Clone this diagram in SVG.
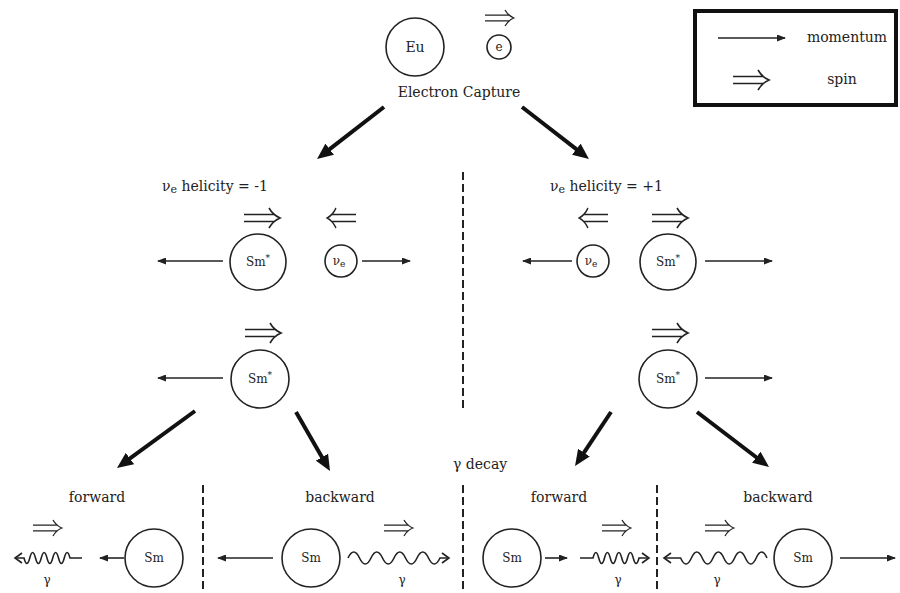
<svg xmlns="http://www.w3.org/2000/svg" xmlns:xlink="http://www.w3.org/1999/xlink" width="900" height="593" viewBox="0 0 900 593">
<style>
text{font-family:"DejaVu Serif","Liberation Serif",serif;font-size:14px;fill:#222;}
.c{text-anchor:middle;}
.small{font-size:12px;}
.node{fill:#fff;stroke:#222;stroke-width:1.6;}
.thin{stroke:#222;stroke-width:1.6;fill:none;marker-end:url(#ah);}
.thick{stroke:#111;stroke-width:4;fill:none;marker-end:url(#bh);}
.wave{stroke:#222;stroke-width:1.6;fill:none;marker-end:url(#oh);}
.dash{stroke:#222;stroke-width:2;stroke-dasharray:8 4;}
.spin{stroke:#222;stroke-width:1.6;fill:none;}
</style>
<defs>
<marker id="ah" markerUnits="userSpaceOnUse" markerWidth="9" markerHeight="7" refX="8" refY="3.5" orient="auto"><path d="M0,0 L9,3.5 L0,7 z" fill="#222"/></marker>
<marker id="bh" markerUnits="userSpaceOnUse" markerWidth="17" markerHeight="14" refX="2" refY="7" orient="auto"><path d="M0,0 L16,7 L0,14 z" fill="#111"/></marker>
<marker id="oh" markerUnits="userSpaceOnUse" markerWidth="10" markerHeight="12" refX="8" refY="6" orient="auto"><path d="M1,1 L8,6 L1,11" fill="none" stroke="#222" stroke-width="1.6"/></marker>
<path id="dbl" class="spin" d="M0,-3.5 H31 M0,3.5 H31 M25,-10 Q29,-3 36,0 Q29,3 25,10"/>
</defs>

<g id="legend">
<rect x="695" y="11" width="201" height="94" fill="#fff" stroke="#111" stroke-width="4"/>
<line class="thin" x1="718" y1="38" x2="785" y2="38"/>
<text x="847" y="42" class="c">momentum</text>
<use xlink:href="#dbl" transform="translate(733,80)"/>
<text x="842" y="84" class="c">spin</text>
</g>

<g id="eu">
<circle class="node" cx="415" cy="47" r="29"/>
<text x="415" y="52" class="c">Eu</text>
</g>
<g id="electron">
<use xlink:href="#dbl" transform="translate(485,18) scale(0.8)"/>
<circle class="node" cx="499" cy="47" r="12"/>
<text x="499" y="51" class="c small">e</text>
</g>
<text id="ec-label" x="459" y="97" class="c">Electron Capture</text>

<g id="left-title"><text x="162" y="191">ν<tspan dy="2" font-size="11">e</tspan><tspan dy="-2"> helicity = -1</tspan></text></g>
<g id="right-title"><text x="550" y="191">ν<tspan dy="2" font-size="11">e</tspan><tspan dy="-2"> helicity = +1</tspan></text></g>

<g id="sm1-left">
<use xlink:href="#dbl" transform="translate(244,218)"/>
<circle class="node" cx="258" cy="262" r="28"/>
<text x="258" y="266" class="c small">Sm<tspan dy="-5" font-size="9">*</tspan></text>
</g>
<g id="nu-left">
<use xlink:href="#dbl" transform="translate(356,218) scale(-0.8,1)"/>
<circle class="node" cx="341" cy="261" r="16"/>
<text x="339" y="265" class="c small">ν<tspan dy="2" font-size="9">e</tspan></text>
</g>
<g id="nu-right">
<use xlink:href="#dbl" transform="translate(608,218) scale(-0.8,1)"/>
<circle class="node" cx="593" cy="261" r="16"/>
<text x="591" y="265" class="c small">ν<tspan dy="2" font-size="9">e</tspan></text>
</g>
<g id="sm1-right">
<use xlink:href="#dbl" transform="translate(652,218)"/>
<circle class="node" cx="668" cy="262" r="28"/>
<text x="668" y="266" class="c small">Sm<tspan dy="-5" font-size="9">*</tspan></text>
</g>

<g id="sm2-left">
<use xlink:href="#dbl" transform="translate(245,333)"/>
<circle class="node" cx="260" cy="379" r="29"/>
<text x="260" y="383" class="c small">Sm<tspan dy="-5" font-size="9">*</tspan></text>
</g>
<g id="sm2-right">
<use xlink:href="#dbl" transform="translate(652,333)"/>
<circle class="node" cx="668" cy="379" r="29"/>
<text x="668" y="383" class="c small">Sm<tspan dy="-5" font-size="9">*</tspan></text>
</g>

<text id="gamma-decay" x="453" y="469">γ decay</text>

<g id="fwd-left">
<text x="97" y="502" class="c">forward</text>
<use xlink:href="#dbl" transform="translate(33,528) scale(0.8)"/>
<circle class="node" cx="154" cy="558" r="29"/>
<text x="154" y="562" class="c small">Sm</text>
<text x="47" y="584" class="c small">γ</text>
</g>
<g id="bwd-left">
<text x="340" y="502" class="c">backward</text>
<use xlink:href="#dbl" transform="translate(384,528) scale(0.8)"/>
<circle class="node" cx="311" cy="558" r="29"/>
<text x="311" y="562" class="c small">Sm</text>
<text x="402" y="584" class="c small">γ</text>
</g>
<g id="fwd-right">
<text x="559" y="502" class="c">forward</text>
<use xlink:href="#dbl" transform="translate(602,528) scale(0.8)"/>
<circle class="node" cx="512" cy="558" r="29"/>
<text x="512" y="562" class="c small">Sm</text>
<text x="618" y="584" class="c small">γ</text>
</g>
<g id="bwd-right">
<text x="778" y="502" class="c">backward</text>
<use xlink:href="#dbl" transform="translate(705,528) scale(0.8)"/>
<circle class="node" cx="803" cy="558" r="29"/>
<text x="803" y="562" class="c small">Sm</text>
<text x="717" y="584" class="c small">γ</text>
</g>

<g id="connectors">
<line class="dash" x1="463" y1="172" x2="463" y2="410"/>
<line class="dash" x1="203" y1="485" x2="203" y2="593"/>
<line class="dash" x1="463" y1="485" x2="463" y2="593"/>
<line class="dash" x1="657" y1="485" x2="657" y2="593"/>

<line class="thick" x1="384" y1="107" x2="328.1" y2="150.4"/>
<line class="thick" x1="522" y1="107" x2="577.9" y2="150.4"/>
<line class="thick" x1="195" y1="411" x2="128.3" y2="459.7"/>
<line class="thick" x1="296" y1="412" x2="323" y2="458.9"/>
<line class="thick" x1="611" y1="412" x2="582.8" y2="454.4"/>
<line class="thick" x1="697" y1="412" x2="757.9" y2="458.5"/>

<line class="thin" x1="223" y1="261" x2="158" y2="261"/>
<line class="thin" x1="362" y1="261" x2="410" y2="261"/>
<line class="thin" x1="572" y1="261" x2="523" y2="261"/>
<line class="thin" x1="705" y1="261" x2="772" y2="261"/>
<line class="thin" x1="223" y1="378" x2="158" y2="378"/>
<line class="thin" x1="705" y1="378" x2="772" y2="378"/>

<line class="thin" x1="124" y1="558" x2="100" y2="558"/>
<line class="thin" x1="273" y1="558" x2="218" y2="558"/>
<line class="thin" x1="545" y1="558" x2="567" y2="558"/>
<line class="thin" x1="840" y1="558" x2="895" y2="558"/>

<path class="wave" d="M82,558 L70,558 q-2.875,-11 -5.75,0 t-5.75,0 t-5.75,0 t-5.75,0 t-5.75,0 t-5.75,0 t-5.75,0 t-5.75,0 L15,558"/>
<path class="wave" d="M348,558 q5.75,-12 11.5,0 t11.5,0 t11.5,0 t11.5,0 t11.5,0 t11.5,0 t11.5,0 t11.5,0 L449,558"/>
<path class="wave" d="M580,558 L593,558 q2.875,-11 5.75,0 t5.75,0 t5.75,0 t5.75,0 t5.75,0 t5.75,0 t5.75,0 t5.75,0 L649,558"/>
<path class="wave" d="M767,558 q-5.4,-12 -10.8,0 t-10.8,0 t-10.8,0 t-10.8,0 t-10.8,0 t-10.8,0 t-10.8,0 t-10.8,0 L664,558"/>
</g>
</svg>
